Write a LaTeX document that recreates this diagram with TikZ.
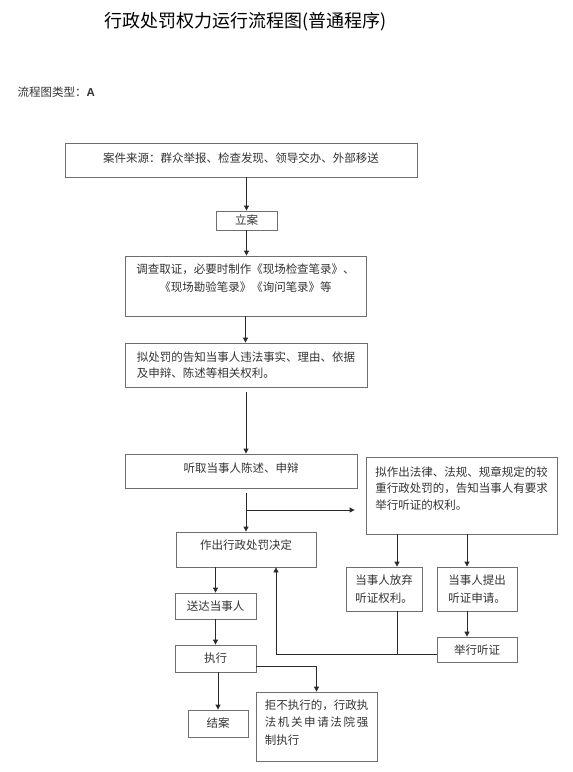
\documentclass[tikz,border=0pt]{standalone}
\usepackage{fontspec}
\setmainfont{Noto Sans CJK SC}
\newfontfamily\latinbf{Liberation Sans}
\usetikzlibrary{arrows.meta}
\definecolor{boxgray}{HTML}{6F6F6F}
\definecolor{txtgray}{HTML}{333333}
\definecolor{linegray}{HTML}{2A2A2A}
\newcommand{\fs}[1]{\fontsize{11.5}{#1}\selectfont}
\newcommand{\rowsc}[1]{\begin{tabular}[t]{@{}c@{}}#1\end{tabular}}
\newcommand{\rowsl}[1]{\begin{tabular}[t]{@{}l@{}}#1\end{tabular}}
\tikzstyle{box}=[rectangle,draw=boxgray,line width=0.8pt,inner sep=0pt,text=txtgray,font=\fs{17}]
\tikzstyle{arr}=[-{Triangle[length=5pt,width=5pt]},draw=linegray,line width=0.8pt]
\tikzstyle{line}=[draw=linegray,line width=0.8pt]

\begin{document}
\begin{tikzpicture}[x=1pt,y=-1pt]
\useasboundingbox (0,0) rectangle (573,772);
\node[font=\fontsize{18}{20}\selectfont] (title) at (246,22) {行政处罚权力运行流程图(普通程序)};
\node[anchor=west,font=\fontsize{11.5}{13}\selectfont,text=txtgray] (type) at (14,92) {流程图类型：{\latinbf\bfseries A}};
% main column
\node[box,minimum width=352pt,text height=19pt,text depth=15pt] (src) at (241,160) {案件来源：群众举报、检查发现、领导交办、外部移送};
\node[box,minimum width=61pt,text height=13pt,text depth=6pt] (lian) at (246.5,220.5) {立案};
\node[box,minimum width=241pt,text height=17pt,text depth=43pt,font=\fs{18}] (diaocha) at (245.5,286) {\rowsc{调查取证，必要时制作《现场检查笔录》、\\《现场勘验笔录》《询问笔录》等}};
\node[box,minimum width=242pt,text height=18pt,text depth=26pt,font=\fs{16}] (nichufa) at (246,365) {\rowsl{拟处罚的告知当事人违法事实、理由、依据\\及申辩、陈述等相关权利。}};
\node[box,minimum width=232pt,text height=18pt,text depth=16pt] (tingqu) at (241,471) {听取当事人陈述、申辩};
\node[box,minimum width=140pt,text height=17pt,text depth=18pt] (jueding) at (246,549.5) {作出行政处罚决定};
\node[box,minimum width=81pt,text height=17pt,text depth=9pt] (songda) at (215.5,606) {送达当事人};
\node[box,minimum width=81pt,text height=17pt,text depth=10pt] (zhixing) at (215.5,658.5) {执行};
\node[box,minimum width=60pt,text height=17pt,text depth=10pt] (jiean) at (218,723.5) {结案};
\node[box,minimum width=121pt,text height=17pt,text depth=52pt,font=\fs{17.5}] (qiangzhi) at (316.5,726.5) {\rowsl{拒不执行的，行政执\\\makebox[9em][s]{法\hfil 机\hfil 关\hfil 申\hfil 请\hfil 法\hfil 院\hfil 强}\\制执行}};
% hearing branch
\node[box,minimum width=191pt,text height=19pt,text depth=58pt,font=\fs{16.5}] (gaozhi) at (461.5,495.5) {\rowsl{拟作出法律、法规、规章规定的较\\重行政处罚的，告知当事人有要求\\举行听证的权利。}};
\node[box,minimum width=76pt,text height=17pt,text depth=27pt,font=\fs{18}] (fangqi) at (384,589) {\rowsc{当事人放弃\\听证权利。}};
\node[box,minimum width=80pt,text height=17pt,text depth=27pt,font=\fs{18}] (tichu) at (477,589) {\rowsl{当事人提出\\听证申请。}};
\node[box,minimum width=80pt,text height=17pt,text depth=8pt] (juxing) at (477,649.5) {举行听证};
\coordinate (fork) at (246,510);
\coordinate (ret) at ([yshift=-4.5pt]juxing.west);
% connectors
\draw[arr] (lian.north |- src.south) -- (lian.north);
\draw[arr] (lian.south) -- (lian.south |- diaocha.north);
\draw[arr] (diaocha.south) -- (diaocha.south |- nichufa.north);
\draw[arr,shorten <=5pt] (nichufa.south) -- (nichufa.south |- tingqu.north);
\draw[arr,shorten <=5pt] (jueding.north |- tingqu.south) -- (jueding.north);
\draw[arr,shorten >=11pt] (fork) -- (fork -| gaozhi.west);
\draw[arr] ([xshift=13pt]fangqi.north |- gaozhi.south) -- ([xshift=13pt]fangqi.north);
\draw[arr] ([xshift=-10pt]tichu.north |- gaozhi.south) -- ([xshift=-10pt]tichu.north);
\draw[arr] ([xshift=-10pt]tichu.south) -- ([xshift=-10pt]juxing.north);
\draw[line] ([xshift=13pt]fangqi.south) -- ([xshift=13pt]fangqi.south |- ret);
\draw[arr] (ret) -- ([xshift=30pt]jueding.south |- ret) -- ([xshift=30pt]jueding.south);
\draw[arr] (songda.north |- jueding.south) -- (songda.north);
\draw[arr] (songda.south) -- (zhixing.north);
\draw[arr] (jiean.north |- zhixing.south) -- (jiean.north);
\draw[arr] ([yshift=-8pt]zhixing.east) -| (qiangzhi.north);
\end{tikzpicture}
\end{document}
